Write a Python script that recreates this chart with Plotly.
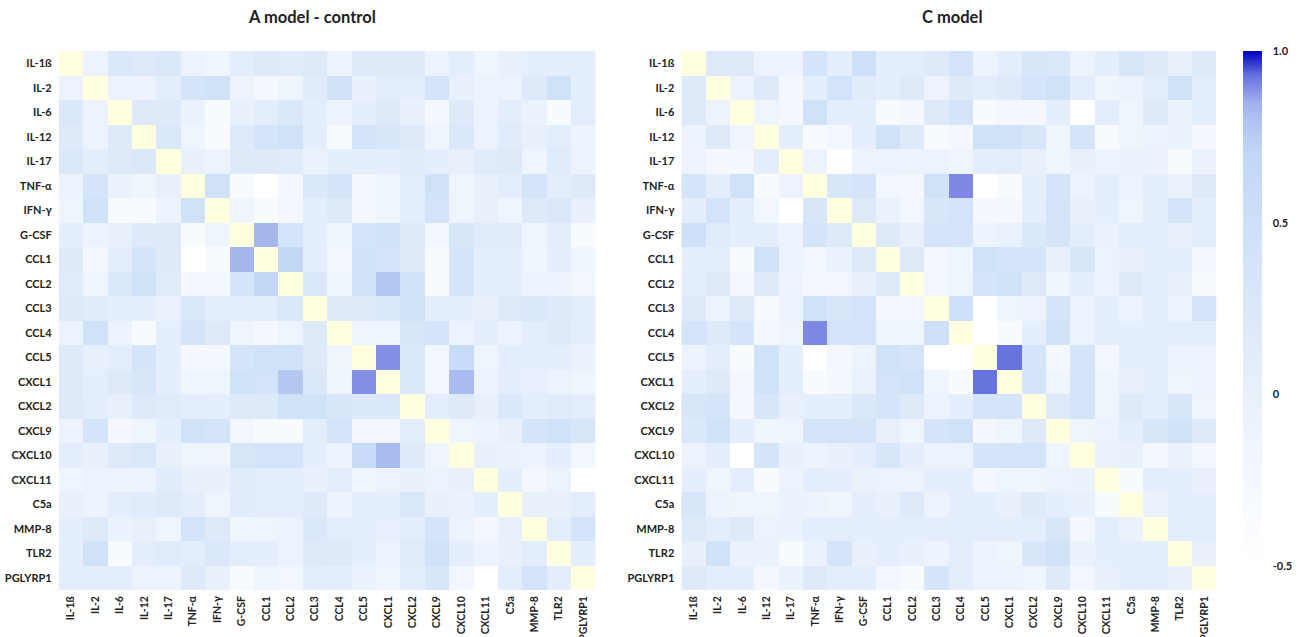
import plotly.graph_objects as go

labels = ["IL-1ß", "IL-2", "IL-6", "IL-12", "IL-17", "TNF-α", "IFN-γ", "G-CSF", "CCL1", "CCL2",
          "CCL3", "CCL4", "CCL5", "CXCL1", "CXCL2", "CXCL9", "CXCL10", "CXCL11", "C5a", "MMP-8",
          "TLR2", "PGLYRP1"]

# lower-triangle correlations (row i holds columns 0..i-1)
model_a_lower = [
    [],
    [-0.1],
    [0.25, -0.1],
    [0.2, -0.1, 0.2],
    [0.25, 0.1, 0.2, 0.25],
    [-0.1, 0.35, -0.05, -0.15, 0.0],
    [-0.15, 0.45, -0.35, -0.35, -0.1, 0.45],
    [0.1, -0.1, 0.0, 0.2, 0.2, -0.35, -0.15],
    [0.2, -0.25, 0.1, 0.35, 0.2, -0.5, -0.35, 0.83],
    [0.15, -0.15, 0.25, 0.45, 0.15, -0.25, -0.25, 0.35, 0.68],
    [0.2, 0.15, 0.05, 0.05, -0.05, 0.25, 0.05, 0.05, 0.05, 0.25],
    [-0.1, 0.45, -0.1, -0.35, 0.05, 0.35, 0.2, -0.15, -0.25, -0.15, 0.2],
    [0.2, 0.0, 0.1, 0.35, 0.05, -0.25, -0.25, 0.35, 0.45, 0.45, 0.2, -0.15],
    [0.2, 0.05, 0.2, 0.3, 0.05, -0.15, -0.15, 0.45, 0.4, 0.77, 0.25, -0.15, 0.89],
    [0.2, 0.1, 0.0, 0.2, 0.15, 0.1, 0.05, 0.2, 0.2, 0.45, 0.45, 0.3, 0.25, 0.25],
    [-0.1, 0.35, -0.25, -0.15, 0.05, 0.45, 0.4, -0.2, -0.35, -0.35, 0.1, 0.35, -0.2, -0.2, 0.1],
    [0.1, 0.0, 0.2, 0.25, 0.0, -0.15, -0.15, 0.3, 0.35, 0.35, 0.05, -0.1, 0.6, 0.82, 0.2, -0.15],
    [-0.15, -0.1, -0.1, -0.1, 0.15, 0.0, 0.0, 0.15, 0.1, 0.1, 0.0, 0.1, -0.15, -0.1, 0.0, -0.1, 0.0],
    [0.0, -0.1, 0.1, 0.15, 0.2, 0.1, -0.15, 0.15, 0.1, 0.1, 0.2, -0.1, 0.1, 0.05, 0.25, 0.0, -0.05, 0.05],
    [0.05, 0.2, -0.05, 0.0, -0.15, 0.35, 0.2, -0.15, -0.15, -0.1, 0.25, 0.1, 0.05, 0.02, 0.1, 0.35,
     -0.1, -0.25, 0.0],
    [0.05, 0.45, -0.35, 0.1, 0.15, 0.1, 0.25, 0.1, 0.05, -0.1, 0.2, 0.2, 0.05, -0.1, 0.15, 0.45,
     0.05, -0.1, 0.0, 0.1],
    [0.1, 0.1, 0.1, -0.1, -0.1, 0.2, 0.0, -0.35, -0.15, -0.2, 0.1, 0.05, -0.05, -0.15, 0.1, 0.3,
     -0.2, -0.5, 0.1, 0.4, 0.05],
]

model_c_lower = [
    [],
    [0.2],
    [0.2, -0.1],
    [-0.1, 0.2, -0.15],
    [-0.1, -0.25, -0.25, 0.05],
    [0.35, 0.05, 0.45, -0.35, -0.1],
    [0.05, 0.4, 0.1, -0.2, -0.5, 0.3],
    [0.5, 0.15, 0.05, 0.05, -0.1, 0.35, 0.2],
    [0.05, 0.05, -0.35, 0.45, -0.1, -0.2, -0.05, 0.2],
    [0.1, 0.2, -0.25, 0.2, -0.1, -0.25, -0.2, 0.0, 0.2],
    [0.2, -0.1, 0.2, -0.35, -0.1, 0.45, 0.3, 0.4, -0.25, -0.2],
    [0.4, 0.2, 0.35, -0.25, -0.15, 0.9, 0.4, 0.4, -0.15, -0.15, 0.5],
    [-0.1, 0.1, -0.35, 0.45, 0.05, -0.5, -0.25, -0.1, 0.45, 0.35, -0.5, -0.5],
    [0.05, 0.2, -0.25, 0.45, 0.1, -0.35, -0.25, -0.02, 0.4, 0.45, -0.15, -0.35, 0.925],
    [0.3, 0.35, -0.25, 0.3, 0.0, 0.05, 0.05, 0.25, 0.35, 0.2, -0.1, 0.05, 0.35, 0.35],
    [0.25, 0.45, 0.05, -0.15, -0.15, 0.35, 0.4, 0.35, 0.0, -0.15, 0.35, 0.45, -0.25, -0.15, 0.2],
    [-0.1, 0.1, -0.5, 0.35, 0.0, -0.1, 0.0, 0.1, 0.3, 0.05, -0.1, -0.1, 0.35, 0.35, 0.35, -0.15],
    [0.05, -0.15, 0.1, -0.35, -0.1, 0.1, 0.05, -0.05, -0.1, -0.1, 0.05, 0.05, -0.25, -0.15, -0.15,
     -0.1, -0.05],
    [0.3, -0.1, -0.15, -0.15, -0.05, -0.1, -0.15, 0.1, 0.0, 0.2, -0.1, 0.05, 0.05, 0.0, 0.2, 0.05,
     0.0, -0.35],
    [0.2, 0.1, 0.2, -0.1, -0.05, 0.1, 0.1, 0.05, 0.1, 0.05, 0.1, 0.1, 0.1, 0.1, 0.05, 0.3, -0.25,
     0.1, -0.05],
    [0.0, 0.45, -0.05, -0.05, -0.35, -0.05, 0.35, 0.0, 0.05, 0.0, -0.1, 0.1, -0.1, -0.15, 0.3, 0.45,
     -0.05, 0.05, 0.1, 0.1],
    [0.2, 0.1, 0.1, -0.25, -0.05, 0.2, 0.05, 0.1, -0.2, -0.35, 0.35, 0.1, -0.1, -0.1, -0.15, 0.2,
     -0.2, 0.0, 0.1, 0.1, 0.0],
]

panel_titles = ["A model - control", "C model"]
cbar_tickvals = [1.0, 0.5, 0, -0.5]
cbar_ticktext = ["1.0", "0.5", "0", "-0.5"]


def full_matrix(lower):
    n = len(lower)
    m = [[None] * n for _ in range(n)]
    for i in range(n):
        for j, v in enumerate(lower[i]):
            m[i][j] = v
            m[j][i] = v
    return m


def diag_matrix(n):
    return [[1 if i == j else None for j in range(n)] for i in range(n)]


zmin, zmax = -0.5, 1.0


def nz(v):
    return (v - zmin) / (zmax - zmin)


colorscale = [
    [nz(-0.5), "#ffffff"],
    [nz(-0.25), "#f4f8fe"],
    [nz(0.0), "#e8f0fc"],
    [nz(0.25), "#dbe8fa"],
    [nz(0.5), "#cde0f8"],
    [nz(0.7), "#c2d7f7"],
    [nz(0.8), "#b0c2f2"],
    [nz(0.85), "#a0b0ec"],
    [nz(0.9), "#7c88e4"],
    [nz(0.93), "#6470dc"],
    [nz(1.0), "#0000c0"],
]

FONT = "Lato"
W, H = 1306, 637
mt, mb = 51, 47
ph = H - mt - mb

fig = go.Figure()

panels = [(model_a_lower, "x", "y"), (model_c_lower, "x2", "y2")]
for k, (lower, xa, ya) in enumerate(panels):
    fig.add_trace(go.Heatmap(
        z=full_matrix(lower), x=labels, y=labels, xaxis=xa, yaxis=ya,
        colorscale=colorscale, zmin=zmin, zmax=zmax,
        showscale=(k == 1),
        colorbar=dict(
            x=1243 / W, xanchor="left", xpad=0, thickness=19,
            y=1, yanchor="top", len=515 / ph, ypad=0,
            outlinewidth=0, tickvals=cbar_tickvals, ticktext=cbar_ticktext,
            ticks="outside", ticklen=9, tickcolor="rgba(0,0,0,0)",
            tickfont=dict(family=FONT, size=11, color="#222", weight="bold"),
        ),
        hoverongaps=False,
    ))
    fig.add_trace(go.Heatmap(
        z=diag_matrix(len(labels)), x=labels, y=labels, xaxis=xa, yaxis=ya,
        colorscale=[[0, "#ffffe0"], [1, "#ffffe0"]], showscale=False, hoverongaps=False,
    ))

tickfont = dict(family=FONT, size=11, color="#222", weight="bold")
xtickfont = dict(family=FONT, size=10.5, color="#222", weight="bold")
axis_common = dict(showgrid=False, zeroline=False, showline=False, ticks="", automargin=False)

title_font = dict(family=FONT, size=16.5, color="#222", weight="bold")

fig.update_layout(
    width=W, height=H,
    margin=dict(l=0, r=0, t=mt, b=mb),
    paper_bgcolor="white", plot_bgcolor="white",
    xaxis=dict(domain=[58.7 / W, 595.5 / W], tickangle=-90, ticklabelstandoff=3,
               tickfont=xtickfont, **axis_common),
    yaxis=dict(domain=[0, 1], autorange="reversed", ticklabelstandoff=6, tickfont=tickfont,
               **axis_common),
    xaxis2=dict(domain=[681.3 / W, 1216.5 / W], tickangle=-90, ticklabelstandoff=3, anchor="y2",
                tickfont=xtickfont, **axis_common),
    yaxis2=dict(domain=[0, 1], autorange="reversed", ticklabelstandoff=6, anchor="x2",
                tickfont=tickfont, **axis_common),
    annotations=[
        dict(text=panel_titles[0], x=312 / W, y=1 + (mt - 17) / ph, xref="paper", yref="paper",
             showarrow=False, xanchor="center", yanchor="middle", font=title_font),
        dict(text=panel_titles[1], x=952.5 / W, y=1 + (mt - 17) / ph, xref="paper", yref="paper",
             showarrow=False, xanchor="center", yanchor="middle", font=title_font),
    ],
)

fig.write_html("out.html")
